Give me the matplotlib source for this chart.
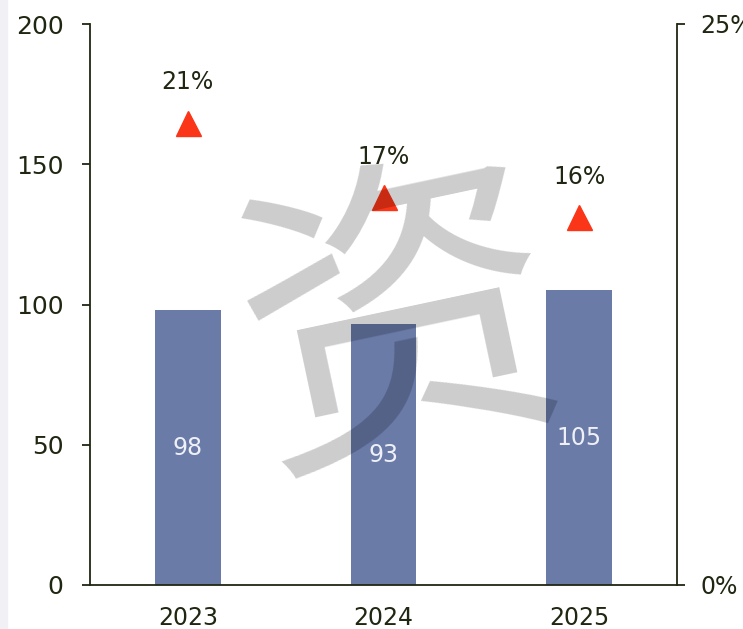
import matplotlib
matplotlib.use('Agg')
import matplotlib.pyplot as plt

years = ['2023', '2024', '2025']
values = [98, 93, 105]
growth = [20.6, 17.3, 16.4]
growth_labels = ['21%', '17%', '16%']

text_color = '#1f2712'
bar_color = '#6a7ba8'
tri_color = '#fb3517'

plt.rcParams['font.family'] = ['DejaVu Sans']

fig = plt.figure(figsize=(7.43, 6.29), dpi=100)
# light strip on the left edge
fig.patches.append(plt.Rectangle((0, 0), 7 / 743, 1, transform=fig.transFigure,
                                 color='#f0f0f5', zorder=0))

ax = fig.add_axes([90 / 743, 44 / 629, 587 / 743, 561 / 629])
ax2 = ax.twinx()

x = list(range(len(years)))
ax.bar(x, values, width=0.335, color=bar_color, zorder=2)
for xi, v in zip(x, values):
    ax.text(xi, v / 2, str(v), ha='center', va='center', color='#eef0f6',
            fontsize=17, zorder=3)

ax.set_xlim(-0.5, 2.5)
ax.set_ylim(0, 200)
ax.set_yticks([0, 50, 100, 150, 200])
ax.set_xticks(x)
ax.set_xticklabels(years)
ax.tick_params(axis='x', length=0, pad=15, labelsize=17, labelcolor=text_color)
ax.tick_params(axis='y', length=6, width=1.3, color=text_color, pad=13,
               labelsize=18, labelcolor=text_color)
for s in ['top', 'right']:
    ax.spines[s].set_visible(False)
for s in ['left', 'bottom']:
    ax.spines[s].set_color(text_color)
    ax.spines[s].set_linewidth(1.3)

ax2.plot(x, growth, linestyle='none', marker='^', markersize=18,
         color=tri_color, zorder=3)
for xi, g, lab in zip(x, growth, growth_labels):
    ax2.annotate(lab, (xi, g), xytext=(0, 29), textcoords='offset points',
                 ha='center', va='center', fontsize=17, color=text_color)
ax2.set_ylim(0, 25)
ax2.set_yticks([0, 25])
ax2.set_yticklabels(['0%', '25%'])
ax2.tick_params(axis='y', length=6, width=1.3, color=text_color, pad=11,
                labelsize=17, labelcolor=text_color)
for s in ['top', 'left', 'bottom']:
    ax2.spines[s].set_visible(False)
ax2.spines['right'].set_color(text_color)
ax2.spines['right'].set_linewidth(1.3)

# watermark
fig.text(0.54, 0.47, '资', fontsize=230, rotation=12, color='black', alpha=0.2,
         ha='center', va='center', family=['Noto Sans CJK SC'], zorder=10)

fig.savefig('out.png', dpi=100)
